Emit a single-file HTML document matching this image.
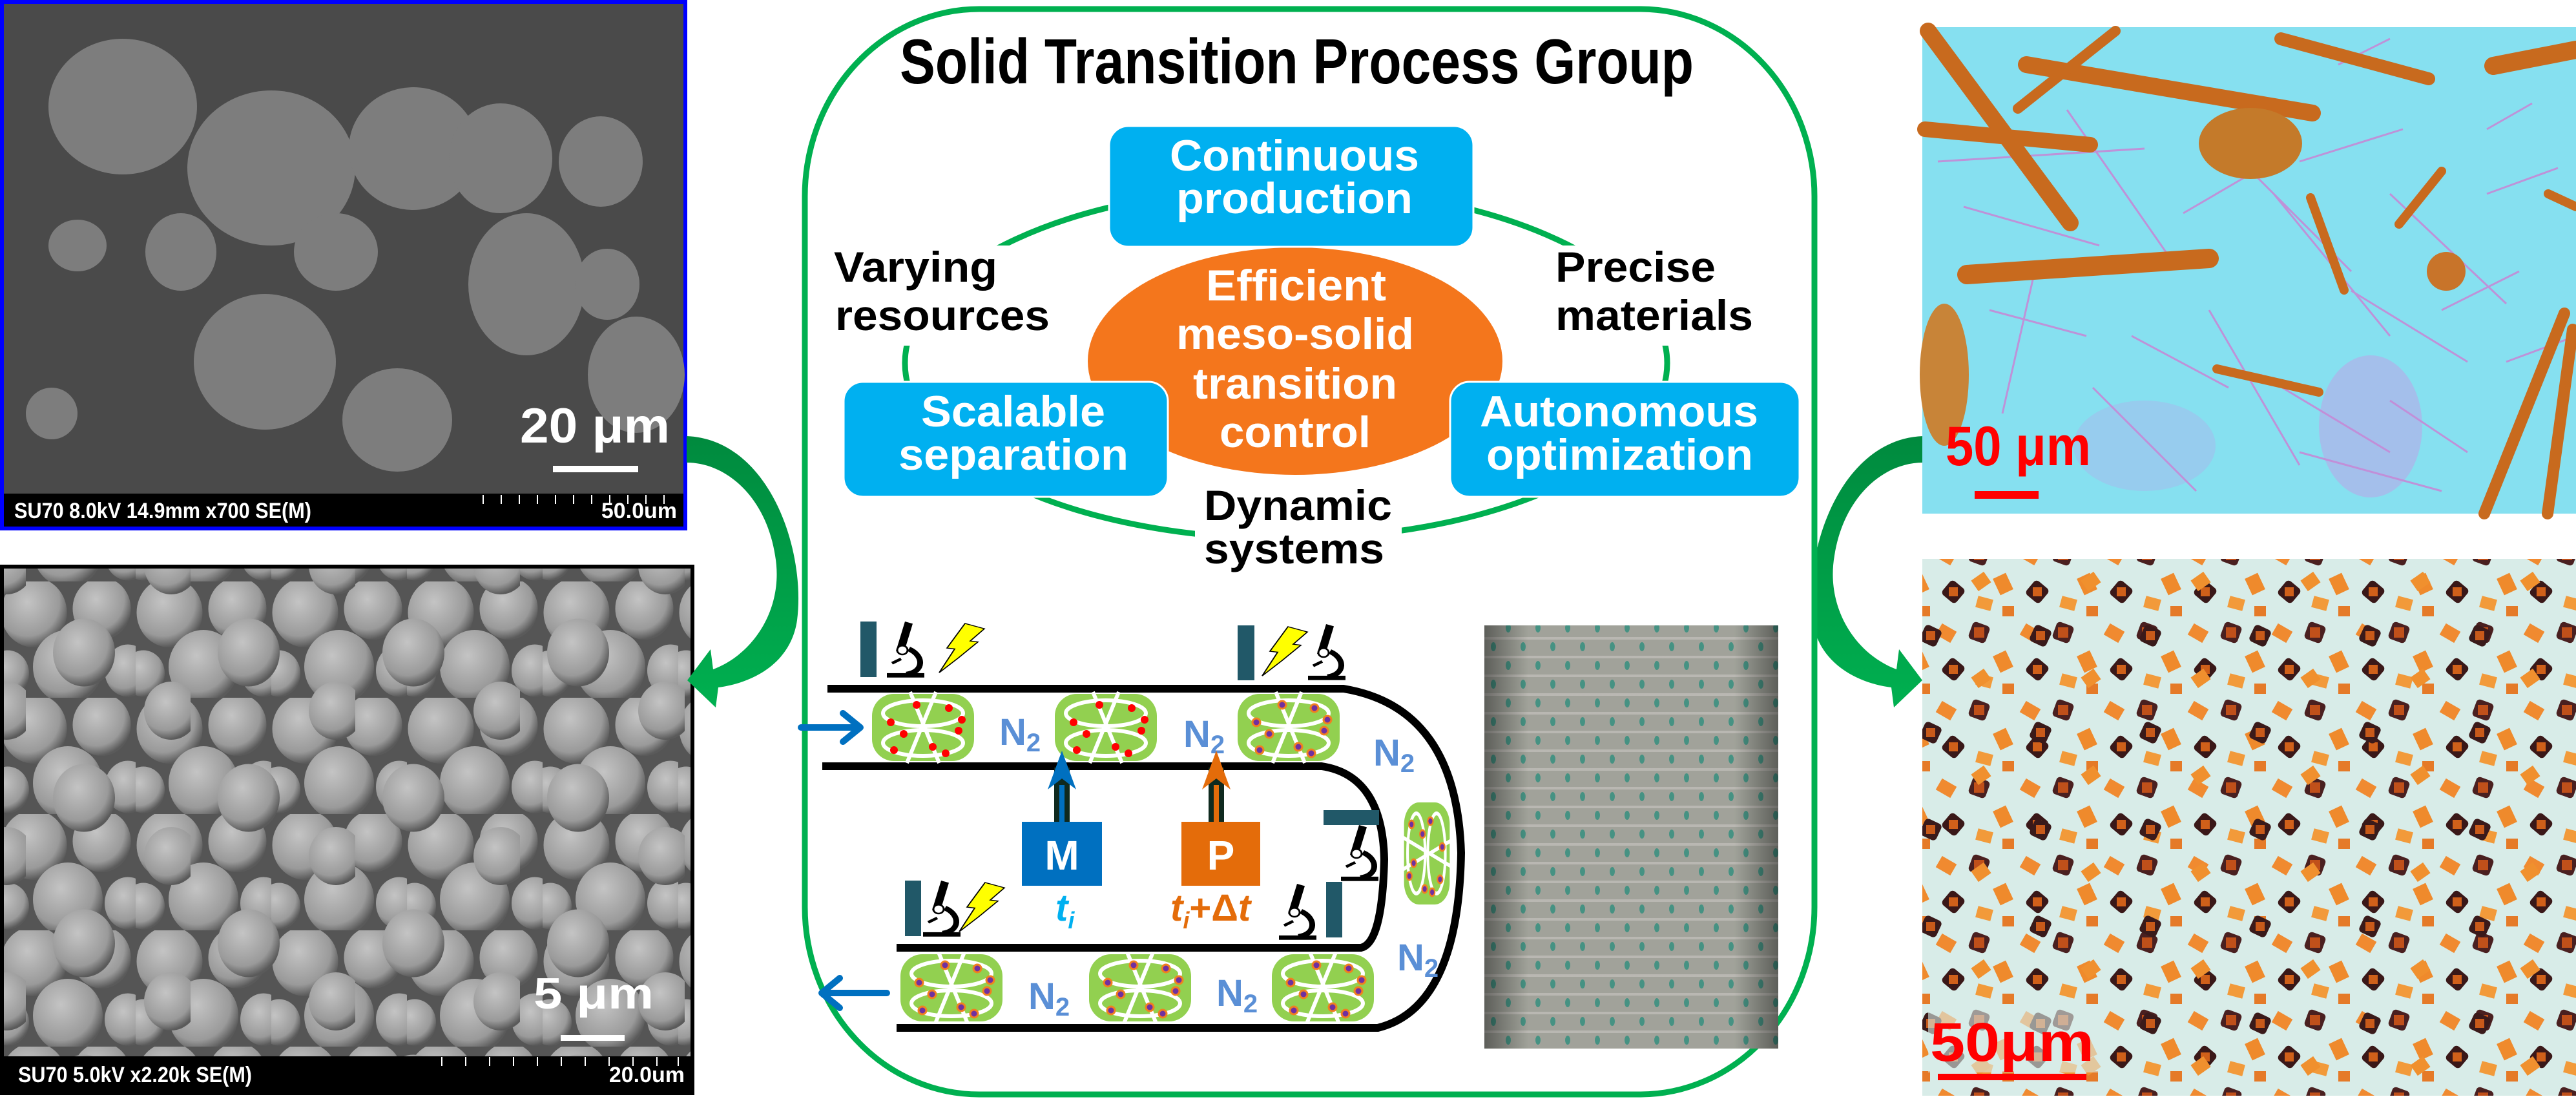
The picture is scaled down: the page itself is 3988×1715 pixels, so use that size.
<!DOCTYPE html>
<html><head><meta charset="utf-8"><style>
html,body{margin:0;padding:0;background:#fff;}
svg{display:block;}
text{font-family:"Liberation Sans",Arial,sans-serif;font-weight:bold;}
</style></head><body>
<svg width="3988" height="1715" viewBox="0 0 3988 1715" xmlns="http://www.w3.org/2000/svg">
<defs>
 <radialGradient id="sph" cx="40%" cy="35%" r="65%">
  <stop offset="0" stop-color="#c4c4c4"/><stop offset="0.75" stop-color="#9a9a9a"/><stop offset="1" stop-color="#5a5a5a"/>
 </radialGradient>
 <pattern id="spheres" width="140" height="120" patternUnits="userSpaceOnUse" patternTransform="scale(1.5)">
  <rect width="140" height="120" fill="#555"/>
  <ellipse cx="35" cy="32" rx="34" ry="36" fill="url(#sph)"/>
  <ellipse cx="105" cy="28" rx="30" ry="32" fill="url(#sph)"/>
  <ellipse cx="70" cy="88" rx="36" ry="38" fill="url(#sph)"/>
  <ellipse cx="132" cy="92" rx="24" ry="27" fill="url(#sph)"/>
  <ellipse cx="8" cy="95" rx="22" ry="24" fill="url(#sph)"/>
 </pattern>
 <pattern id="spheres2" width="170" height="150" patternUnits="userSpaceOnUse" patternTransform="translate(40 20) scale(1.5)">
  <ellipse cx="60" cy="60" rx="32" ry="35" fill="url(#sph)"/>
  <ellipse cx="150" cy="120" rx="28" ry="30" fill="url(#sph)"/>
 </pattern>
 <pattern id="squares" width="130" height="120" patternUnits="userSpaceOnUse">
  <rect width="130" height="120" fill="#d8ece8"/>
  <rect x="10" y="10" width="26" height="20" fill="#f08a30" transform="rotate(30 23 20)"/>
  <rect x="60" y="5" width="28" height="28" fill="#4a2020" rx="6" transform="rotate(20 74 19)"/>
  <rect x="66" y="11" width="16" height="16" fill="#c0501a"/>
  <rect x="100" y="50" width="22" height="28" fill="#ef8a2c" transform="rotate(-25 111 64)"/>
  <rect x="20" y="62" width="28" height="28" fill="#3a1818" rx="6" transform="rotate(40 34 76)"/>
  <rect x="27" y="69" width="14" height="14" fill="#d0601a"/>
  <rect x="70" y="85" width="24" height="18" fill="#f29a3a" transform="rotate(15 82 94)"/>
  <rect x="110" y="98" width="18" height="16" fill="#e57a28"/>
 </pattern>
 <pattern id="squares2" width="170" height="150" patternUnits="userSpaceOnUse" patternTransform="translate(55 40)">
  <rect x="30" y="30" width="28" height="28" fill="#3a1a1a" rx="6" transform="rotate(25 44 44)"/>
  <rect x="37" y="37" width="14" height="14" fill="#c85a1a"/>
  <rect x="110" y="100" width="24" height="20" fill="#f0902e" transform="rotate(-35 122 110)"/>
 </pattern>
 <pattern id="photo" width="46" height="58" patternUnits="userSpaceOnUse">
  <rect width="46" height="58" fill="#a9aba2"/>
  <rect x="0" y="0" width="46" height="4" fill="#c3c1bb"/>
  <rect x="0" y="29" width="46" height="4" fill="#c3c1bb"/>
  <ellipse cx="12" cy="15" rx="4" ry="7" fill="#4a9a8a"/>
  <ellipse cx="35" cy="44" rx="4" ry="7" fill="#4a9a8a"/>
 </pattern>
 <linearGradient id="photoShade" x1="0" x2="1">
  <stop offset="0" stop-color="#000" stop-opacity="0.45"/><stop offset="0.15" stop-color="#000" stop-opacity="0.05"/>
  <stop offset="0.85" stop-color="#000" stop-opacity="0.05"/><stop offset="1" stop-color="#000" stop-opacity="0.45"/>
 </linearGradient>
 <linearGradient id="garrL" x1="0" y1="0" x2="0" y2="1">
  <stop offset="0" stop-color="#008a3e"/><stop offset="1" stop-color="#00b050"/>
 </linearGradient>
 <g id="drum">
  <rect x="-79" y="-52" width="158" height="104" rx="34" fill="#92d050"/>
  <ellipse cx="0" cy="-22" rx="62" ry="20" fill="none" stroke="#fff" stroke-width="6"/>
  <ellipse cx="0" cy="24" rx="62" ry="20" fill="none" stroke="#fff" stroke-width="6"/>
  <path d="M-20 -55 L25 55 M20 -55 L-25 55" stroke="#fff" stroke-width="6" fill="none"/>
 </g>
 <g id="dotsR" fill="#f00">
  <circle cx="-50" cy="-8" r="6"/><circle cx="-30" cy="10" r="6"/><circle cx="40" cy="-30" r="6"/><circle cx="55" cy="5" r="6"/>
  <circle cx="-10" cy="-35" r="6"/><circle cx="15" cy="30" r="6"/><circle cx="-45" cy="35" r="6"/><circle cx="35" cy="40" r="6"/><circle cx="60" cy="-12" r="6"/>
 </g>
 <g id="dotsP" fill="#7030a0" stroke="#f08020" stroke-width="3">
  <circle cx="-50" cy="-8" r="6"/><circle cx="-30" cy="10" r="6"/><circle cx="40" cy="-30" r="6"/><circle cx="55" cy="5" r="6"/>
  <circle cx="-10" cy="-35" r="6"/><circle cx="15" cy="30" r="6"/><circle cx="-45" cy="35" r="6"/><circle cx="35" cy="40" r="6"/><circle cx="60" cy="-12" r="6"/>
 </g>
 <g id="scope">
  <path d="M28 0 L40 4 L26 58 L14 54 Z" fill="#000"/>
  <circle cx="24" cy="52" r="8" fill="#fff" stroke="#000" stroke-width="3"/>
  <path d="M34 50 C58 62 58 92 30 96" fill="none" stroke="#000" stroke-width="9"/>
  <path d="M8 76 L22 68" stroke="#000" stroke-width="5"/>
  <rect x="0" y="94" width="58" height="8" fill="#000"/>
 </g>
 <g id="bolt">
  <path d="M40 0 L70 12 L48 40 L60 42 L30 78 L0 112 L24 58 L12 56 Z" fill="#ffff00" stroke="#000" stroke-width="2"/>
 </g>
</defs>

<!-- LEFT TOP SEM -->
<rect x="3" y="3" width="1058" height="815" fill="#4a4a4a" stroke="#0000ff" stroke-width="6"/>
<g fill="#7d7d7d">
 <ellipse cx="190" cy="165" rx="115" ry="105"/>
 <ellipse cx="420" cy="260" rx="130" ry="120"/>
 <ellipse cx="640" cy="230" rx="100" ry="95"/>
 <ellipse cx="775" cy="245" rx="80" ry="85"/>
 <ellipse cx="520" cy="390" rx="65" ry="60"/>
 <ellipse cx="815" cy="440" rx="90" ry="110"/>
 <ellipse cx="410" cy="560" rx="110" ry="105"/>
 <ellipse cx="615" cy="650" rx="85" ry="80"/>
 <ellipse cx="930" cy="250" rx="65" ry="70"/>
 <ellipse cx="985" cy="580" rx="75" ry="90"/>
 <ellipse cx="280" cy="390" rx="55" ry="60"/>
 <ellipse cx="940" cy="440" rx="50" ry="55"/>
 <ellipse cx="120" cy="380" rx="45" ry="40"/>
 <ellipse cx="80" cy="640" rx="40" ry="40"/>
</g>
<rect x="6" y="764" width="1052" height="51" fill="#000"/>
<text x="22" y="802" font-size="34" fill="#fff" font-weight="normal" textLength="460" lengthAdjust="spacingAndGlyphs">SU70 8.0kV 14.9mm x700 SE(M)</text>
<text x="1048" y="802" font-size="34" fill="#fff" font-weight="normal" text-anchor="end">50.0um</text>
<path d="M748 766 v14 M776 766 v14 M804 766 v14 M832 766 v14 M860 766 v14 M888 766 v14 M916 766 v14 M944 766 v14 M972 766 v14 M1000 766 v14 M1028 766 v14" stroke="#fff" stroke-width="2"/>
<text x="805" y="685" font-size="76" fill="#fff" textLength="232" lengthAdjust="spacingAndGlyphs">20 μm</text>
<rect x="856" y="721" width="132" height="10" fill="#fff"/>

<!-- LEFT BOTTOM SEM -->
<rect x="3" y="877" width="1069" height="815" fill="url(#spheres)" stroke="#000" stroke-width="6"/>
<rect x="6" y="880" width="1063" height="755" fill="url(#spheres2)"/>
<rect x="6" y="1635" width="1066" height="54" fill="#000"/>
<text x="28" y="1675" font-size="34" fill="#fff" font-weight="normal" textLength="362" lengthAdjust="spacingAndGlyphs">SU70 5.0kV x2.20k SE(M)</text>
<text x="1060" y="1675" font-size="34" fill="#fff" font-weight="normal" text-anchor="end">20.0um</text>
<path d="M684 1636 v14 M721 1636 v14 M758 1636 v14 M795 1636 v14 M832 1636 v14 M869 1636 v14 M906 1636 v14 M943 1636 v14 M980 1636 v14 M1017 1636 v14 M1050 1636 v14" stroke="#fff" stroke-width="2"/>
<text x="826" y="1561" font-size="68" fill="#fff" textLength="186" lengthAdjust="spacingAndGlyphs">5 μm</text>
<rect x="868" y="1602" width="99" height="9" fill="#fff"/>

<!-- green curved arrow left -->
<path d="M1063 675 C1190 680 1248 850 1234 960 C1224 1030 1160 1058 1112 1064 L1108 1095 L1064 1053 L1100 1005 L1104 1036 C1168 1012 1214 940 1200 860 C1186 770 1125 716 1063 716 Z" fill="url(#garrL)"/>
<!-- green curved arrow right -->
<path d="M2977 675 C2850 680 2792 850 2806 960 C2816 1030 2880 1058 2928 1064 L2932 1095 L2976 1053 L2940 1005 L2936 1036 C2872 1012 2826 940 2840 860 C2854 770 2915 716 2977 716 Z" fill="url(#garrL)"/>

<!-- RIGHT TOP -->
<rect x="2976" y="42" width="1012" height="753" fill="#86e0f0"/>
<ellipse cx="3670" cy="660" rx="80" ry="110" fill="#b9a8e8" opacity="0.6"/>
<ellipse cx="3320" cy="690" rx="110" ry="70" fill="#a8b8ec" opacity="0.5"/>
<g stroke="#c58ad6" stroke-width="3" opacity="0.9">
 <path d="M3000 250 L3320 230 M3040 320 L3250 380 M3200 170 L3360 400 M3420 200 L3640 420 M3520 300 L3700 520 M3380 330 L3500 260 M3560 250 L3720 200 M3640 450 L3820 560 M3700 300 L3880 470 M3420 480 L3560 720 M3500 580 L3700 700 M3240 600 L3400 760 M3080 480 L3230 520 M3300 520 L3450 600 M3850 300 L3960 260 M3850 200 L3920 160 M3560 700 L3780 760 M3780 480 L3900 420 M3150 420 L3100 640 M3700 620 L3820 700 M3620 100 L3700 60 M3880 560 L3988 520"/>
</g>
<g stroke="#c86a1e" stroke-linecap="round">
 <path d="M2985 48 L3205 345" stroke-width="26"/>
 <path d="M2980 200 L3236 224" stroke-width="24"/>
 <path d="M3137 100 L3580 175" stroke-width="26"/>
 <path d="M3275 48 L3124 168" stroke-width="16"/>
 <path d="M3045 425 L3420 400" stroke-width="30"/>
 <path d="M3531 60 L3760 122" stroke-width="20"/>
 <path d="M3860 102 L3988 77" stroke-width="28"/>
 <path d="M3780 265 L3714 347" stroke-width="14"/>
 <path d="M3577 306 L3629 449" stroke-width="14"/>
 <path d="M3432 571 L3590 607" stroke-width="14"/>
 <path d="M3970 485 L3846 795" stroke-width="18"/>
 <path d="M3983 510 L3944 795" stroke-width="18"/>
 <path d="M3945 300 L3988 320" stroke-width="14"/>
</g>
<ellipse cx="3484" cy="222" rx="80" ry="55" fill="#c47a2a"/>
<ellipse cx="3010" cy="580" rx="38" ry="110" fill="#c88438"/>
<circle cx="3787" cy="420" r="30" fill="#c8742a"/>
<text x="3012" y="720" font-size="86" fill="#ff0000" font-weight="normal" textLength="225" lengthAdjust="spacingAndGlyphs">50 μm</text>
<rect x="3057" y="760" width="99" height="12" fill="#ff0000"/>

<!-- RIGHT BOTTOM -->
<rect x="2976" y="865" width="1012" height="831" fill="url(#squares)"/>
<rect x="2976" y="865" width="1012" height="831" fill="url(#squares2)"/>
<rect x="2985" y="1560" width="270" height="100" fill="#d8ece8" opacity="0.6"/>
<text x="2988" y="1642" font-size="84" fill="#ff0000" font-weight="normal" textLength="254" lengthAdjust="spacingAndGlyphs">50μm</text>
<rect x="3000" y="1662" width="230" height="10" fill="#ff0000"/>

<!-- CENTER PANEL -->
<rect x="1246" y="14" width="1563" height="1680" rx="270" ry="290" fill="#fff" stroke="#00b050" stroke-width="9"/>
<text x="1393" y="129" font-size="98" fill="#000" textLength="1229" lengthAdjust="spacingAndGlyphs">Solid Transition Process Group</text>

<ellipse cx="1991" cy="562" rx="590" ry="272" fill="none" stroke="#00b050" stroke-width="9"/>
<rect x="1280" y="380" width="360" height="155" fill="#fff"/>
<rect x="2395" y="380" width="330" height="155" fill="#fff"/>
<rect x="1850" y="755" width="320" height="135" fill="#fff"/>

<ellipse cx="2005" cy="559" rx="321" ry="176" fill="#f4761c"/>
<rect x="1717" y="195" width="564" height="187" rx="30" fill="#00b0f0" stroke="#fff" stroke-width="3"/>
<rect x="1306" y="591" width="502" height="178" rx="30" fill="#00b0f0" stroke="#fff" stroke-width="3"/>
<rect x="2245" y="591" width="541" height="178" rx="30" fill="#00b0f0" stroke="#fff" stroke-width="3"/>

<g fill="#fff" font-size="68">
 <text x="1811" y="264" textLength="386" lengthAdjust="spacingAndGlyphs">Continuous</text>
 <text x="1821" y="330" textLength="366" lengthAdjust="spacingAndGlyphs">production</text>
 <text x="1426" y="660" textLength="285" lengthAdjust="spacingAndGlyphs">Scalable</text>
 <text x="1391" y="727" textLength="356" lengthAdjust="spacingAndGlyphs">separation</text>
 <text x="2291" y="660" textLength="431" lengthAdjust="spacingAndGlyphs">Autonomous</text>
 <text x="2301" y="727" textLength="413" lengthAdjust="spacingAndGlyphs">optimization</text>
 <text x="1867" y="465" textLength="279" lengthAdjust="spacingAndGlyphs">Efficient</text>
 <text x="1821" y="540" textLength="368" lengthAdjust="spacingAndGlyphs">meso-solid</text>
 <text x="1847" y="617" textLength="316" lengthAdjust="spacingAndGlyphs">transition</text>
 <text x="1888" y="692" textLength="234" lengthAdjust="spacingAndGlyphs">control</text>
</g>
<g fill="#000" font-size="66">
 <text x="1291" y="436" textLength="253" lengthAdjust="spacingAndGlyphs">Varying</text>
 <text x="1293" y="511" textLength="332" lengthAdjust="spacingAndGlyphs">resources</text>
 <text x="2408" y="436" textLength="248" lengthAdjust="spacingAndGlyphs">Precise</text>
 <text x="2408" y="511" textLength="306" lengthAdjust="spacingAndGlyphs">materials</text>
 <text x="1864" y="805" textLength="291" lengthAdjust="spacingAndGlyphs">Dynamic</text>
 <text x="1864" y="872" textLength="279" lengthAdjust="spacingAndGlyphs">systems</text>
</g>

<rect x="2298" y="968" width="455" height="655" fill="url(#photo)"/>
<rect x="2298" y="968" width="455" height="655" fill="url(#photoShade)"/>

<path d="M1281 1066 H2080 Q2255 1095 2262 1320 Q2258 1560 2133 1591 H1388" fill="none" stroke="#000" stroke-width="12"/>
<path d="M1273 1186 H2046 Q2140 1200 2143 1330 Q2140 1460 2107 1467 H1388" fill="none" stroke="#000" stroke-width="12"/>

<use href="#drum" x="1429" y="1126"/><use href="#dotsR" x="1429" y="1126"/>
<use href="#drum" x="1712" y="1126"/><use href="#dotsR" x="1712" y="1126"/>
<use href="#drum" x="1995" y="1126"/><use href="#dotsP" x="1995" y="1126"/>
<use href="#drum" x="1473" y="1529"/><use href="#dotsP" x="1473" y="1529"/>
<use href="#drum" x="1765" y="1529"/><use href="#dotsP" x="1765" y="1529"/>
<use href="#drum" x="2048" y="1529"/><use href="#dotsP" x="2048" y="1529"/>
<g transform="translate(2209 1321) rotate(90) scale(1 0.68)"><use href="#drum"/><use href="#dotsP"/></g>

<g fill="#5a8fd6" font-weight="bold">
 <text x="1547" y="1153" font-size="58">N<tspan font-size="40" dy="10">2</tspan></text>
 <text x="1832" y="1156" font-size="58">N<tspan font-size="40" dy="10">2</tspan></text>
 <text x="2126" y="1185" font-size="58">N<tspan font-size="40" dy="10">2</tspan></text>
 <text x="2163" y="1502" font-size="58">N<tspan font-size="40" dy="10">2</tspan></text>
 <text x="1592" y="1562" font-size="58">N<tspan font-size="40" dy="10">2</tspan></text>
 <text x="1883" y="1557" font-size="58">N<tspan font-size="40" dy="10">2</tspan></text>
</g>

<path d="M1240 1126 H1325 M1305 1104 L1332 1126 L1305 1148" fill="none" stroke="#0070c0" stroke-width="10" stroke-linecap="round" stroke-linejoin="round"/>
<path d="M1373 1537 H1275 M1300 1514 L1272 1537 L1300 1560" fill="none" stroke="#0070c0" stroke-width="10" stroke-linecap="round" stroke-linejoin="round"/>

<rect x="1632" y="1188" width="24" height="86" fill="#0f2a1f"/>
<rect x="1640" y="1215" width="8" height="60" fill="#0070c0"/>
<path d="M1644 1162 L1666 1222 L1644 1205 L1622 1222 Z" fill="#0070c0"/>
<rect x="1871" y="1188" width="24" height="86" fill="#0f2a1f"/>
<rect x="1879" y="1215" width="8" height="60" fill="#e46c0a"/>
<path d="M1883 1162 L1905 1222 L1883 1205 L1861 1222 Z" fill="#e46c0a"/>
<rect x="1582" y="1272" width="124" height="99" fill="#0070c0"/>
<rect x="1829" y="1272" width="122" height="99" fill="#e46c0a"/>
<text x="1644" y="1346" font-size="64" fill="#fff" text-anchor="middle">M</text>
<text x="1890" y="1346" font-size="64" fill="#fff" text-anchor="middle">P</text>
<text x="1634" y="1425" font-size="58" fill="#00b0f0" font-style="italic">t<tspan font-size="36" dy="12">i</tspan></text>
<text x="1812" y="1425" font-size="58" fill="#e46c0a" font-style="italic">t<tspan font-size="36" dy="12">i</tspan><tspan dy="-12" font-style="normal">+Δ</tspan>t</text>

<g fill="#215868">
 <rect x="1332" y="962" width="25" height="86"/>
 <rect x="1916" y="968" width="26" height="85"/>
 <rect x="1401" y="1363" width="25" height="86"/>
 <rect x="2053" y="1365" width="25" height="86"/>
 <rect x="2049" y="1254" width="86" height="23"/>
</g>
<use href="#scope" transform="translate(1373 962) scale(1 0.85)"/>
<use href="#bolt" transform="translate(1454 965) scale(1 0.68)"/>
<use href="#bolt" transform="translate(1954 970) scale(1 0.68)"/>
<use href="#scope" transform="translate(2025 966) scale(1 0.85)"/>
<use href="#scope" transform="translate(1429 1363) scale(1 0.85)"/>
<use href="#bolt" transform="translate(1485 1366) scale(1 0.68)"/>
<use href="#scope" transform="translate(1980 1368) scale(1 0.85)"/>
<use href="#scope" transform="translate(2076 1277) scale(1 0.85)"/>
</svg>
</body></html>
